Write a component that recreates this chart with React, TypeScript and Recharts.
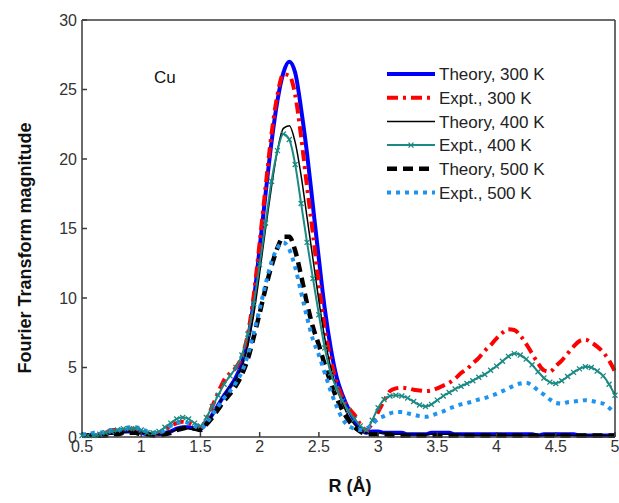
import React from 'react';
import { LineChart, Line, XAxis, YAxis, Legend, Label } from 'recharts';

const rValues = [
  0.5, 0.55, 0.6, 0.65, 0.7, 0.75, 0.8, 0.85, 0.9, 0.95, 1.0, 1.05, 1.1, 1.15, 1.2, 1.25, 1.3, 1.35, 1.4, 1.45, 1.5,
  1.55, 1.6, 1.65, 1.7, 1.75, 1.8, 1.85, 1.9, 1.95, 2.0, 2.05, 2.1, 2.15, 2.2, 2.25, 2.3, 2.35, 2.4, 2.45, 2.5,
  2.55, 2.6, 2.65, 2.7, 2.75, 2.8, 2.85, 2.9, 2.95, 3.0, 3.05, 3.1, 3.15, 3.2, 3.25, 3.3, 3.35, 3.4, 3.45, 3.5,
  3.55, 3.6, 3.65, 3.7, 3.75, 3.8, 3.85, 3.9, 3.95, 4.0, 4.05, 4.1, 4.15, 4.2, 4.25, 4.3, 4.35, 4.4, 4.45, 4.5,
  4.55, 4.6, 4.65, 4.7, 4.75, 4.8, 4.85, 4.9, 4.95, 5.0,
];

const theory300 = [
  0.1, 0.1, 0.1, 0.1, 0.2, 0.3, 0.3, 0.4, 0.4, 0.4, 0.3, 0.2, 0.2, 0.2, 0.3, 0.4, 0.6, 0.7, 0.7, 0.6, 0.6,
  1.0, 1.6, 2.3, 3.0, 3.6, 4.3, 5.3, 7.0, 9.8, 13.6, 17.5, 21.2, 24.2, 26.2, 27.0, 26.2, 23.6, 20.4, 16.6, 12.8,
  9.2, 6.4, 4.3, 3.0, 2.0, 1.2, 0.6, 0.3, 0.4, 0.4, 0.3, 0.3, 0.3, 0.3, 0.2, 0.2, 0.2, 0.2, 0.3, 0.3,
  0.3, 0.3, 0.2, 0.2, 0.2, 0.2, 0.2, 0.2, 0.2, 0.2, 0.2, 0.2, 0.2, 0.2, 0.2, 0.2, 0.1, 0.2, 0.2, 0.2,
  0.2, 0.2, 0.2, 0.1, 0.1, 0.1, 0.1, 0.1, 0.1, 0.1,
];

const expt300 = [
  0.1, 0.1, 0.2, 0.2, 0.3, 0.5, 0.5, 0.4, 0.5, 0.6, 0.5, 0.3, 0.2, 0.3, 0.5, 0.8, 1.0, 1.1, 1.0, 0.8, 0.7,
  1.3, 2.2, 3.2, 4.1, 4.6, 5.0, 5.8, 7.4, 10.2, 14.0, 18.0, 21.8, 24.6, 26.1, 26.0, 24.6, 21.6, 18.0, 14.6, 11.0,
  7.8, 5.6, 3.9, 2.8, 2.1, 1.6, 0.9, 0.5, 1.0, 1.8, 2.6, 3.3, 3.5, 3.55, 3.5, 3.4, 3.35, 3.3, 3.35, 3.5,
  3.7, 3.9, 4.2, 4.6, 4.9, 5.3, 5.7, 6.2, 6.6, 7.1, 7.5, 7.75, 7.7, 7.3, 6.7, 6.0, 5.3, 4.8, 4.7, 5.1,
  5.5, 6.0, 6.5, 6.9, 7.0, 6.8, 6.5, 6.1, 5.5, 4.7,
];

const theory400 = [
  0.1, 0.1, 0.1, 0.1, 0.2, 0.2, 0.3, 0.3, 0.4, 0.3, 0.3, 0.2, 0.2, 0.2, 0.3, 0.4, 0.5, 0.6, 0.6, 0.5, 0.5,
  1.0, 1.6, 2.3, 3.0, 3.6, 4.2, 5.1, 6.6, 8.8, 11.8, 15.0, 18.0, 20.6, 22.2, 22.4, 21.2, 18.8, 15.8, 12.8, 9.8,
  7.1, 5.0, 3.5, 2.4, 1.5, 0.9, 0.5, 0.3, 0.3, 0.3, 0.3, 0.3, 0.2, 0.2, 0.2, 0.2, 0.2, 0.2, 0.2, 0.2,
  0.2, 0.2, 0.2, 0.2, 0.1, 0.1, 0.1, 0.1, 0.1, 0.1, 0.1, 0.1, 0.1, 0.1, 0.1, 0.1, 0.1, 0.1, 0.1, 0.1,
  0.1, 0.1, 0.1, 0.1, 0.1, 0.1, 0.1, 0.1, 0.1, 0.1,
];

const expt400 = [
  0.1, 0.1, 0.1, 0.2, 0.3, 0.4, 0.5, 0.6, 0.6, 0.6, 0.5, 0.3, 0.3, 0.4, 0.7, 1.0, 1.3, 1.4, 1.3, 1.0, 0.8,
  1.4, 2.2, 3.0, 3.8, 4.4, 5.0, 5.9, 7.4, 9.6, 12.4, 15.4, 18.4, 20.6, 21.8, 21.4, 19.6, 16.8, 14.0, 11.4, 8.8,
  6.4, 4.6, 3.5, 2.6, 1.9, 1.3, 0.8, 0.5, 1.2, 2.1, 2.7, 2.95, 3.0, 2.95, 2.8, 2.55, 2.3, 2.2, 2.35, 2.65,
  2.95, 3.2, 3.45, 3.65, 3.85, 4.05, 4.3, 4.5, 4.8, 5.1, 5.45, 5.8, 6.0, 5.9, 5.6, 5.2, 4.7, 4.25, 3.95, 3.85,
  4.05, 4.35, 4.65, 4.9, 5.05, 5.0, 4.75, 4.4, 3.8, 3.0,
];

const theory500 = [
  0.1, 0.1, 0.1, 0.1, 0.1, 0.2, 0.2, 0.3, 0.3, 0.3, 0.2, 0.2, 0.1, 0.1, 0.2, 0.3, 0.5, 0.6, 0.7, 0.6, 0.5,
  0.9, 1.4, 2.0, 2.6, 3.1, 3.7, 4.5, 5.6, 7.2, 8.9, 10.7, 12.3, 13.6, 14.4, 14.4, 13.4, 11.6, 9.6, 7.9, 6.6,
  5.2, 3.9, 2.8, 1.9, 1.2, 0.7, 0.4, 0.2, 0.2, 0.2, 0.2, 0.1, 0.1, 0.1, 0.1, 0.1, 0.1, 0.1, 0.1, 0.1,
  0.1, 0.1, 0.1, 0.1, 0.1, 0.1, 0.1, 0.1, 0.1, 0.1, 0.1, 0.1, 0.1, 0.1, 0.1, 0.1, 0.1, 0.1, 0.1, 0.1,
  0.1, 0.1, 0.1, 0.1, 0.1, 0.1, 0.1, 0.1, 0.1, 0.1,
];

const expt500 = [
  0.2, 0.2, 0.3, 0.3, 0.4, 0.5, 0.5, 0.6, 0.7, 0.7, 0.6, 0.4, 0.3, 0.3, 0.5, 0.8, 1.0, 1.1, 1.0, 0.8, 0.6,
  1.0, 1.6, 2.2, 2.8, 3.3, 3.9, 4.7, 5.9, 7.5, 9.2, 11.0, 12.6, 13.6, 14.0, 13.5, 12.2, 10.4, 8.6, 7.0, 5.9,
  4.6, 3.3, 2.2, 1.3, 0.8, 0.6, 0.5, 0.6, 0.9, 1.3, 1.5, 1.7, 1.8, 1.8, 1.7, 1.6, 1.5, 1.45, 1.55, 1.7,
  1.85, 2.05, 2.2, 2.35, 2.45, 2.55, 2.7, 2.8, 2.95, 3.1, 3.3, 3.5, 3.7, 3.85, 3.9, 3.7, 3.35, 3.05, 2.7, 2.45,
  2.4, 2.5, 2.55, 2.6, 2.65, 2.6, 2.5, 2.4, 2.1, 1.7,
];

const xTicks = [0.5, 1, 1.5, 2, 2.5, 3, 3.5, 4, 4.5, 5];
const yTicks = [0, 5, 10, 15, 20, 25, 30];

const series = [
  { key: 'theory300', name: 'Theory, 300 K', color: '#0000ff', width: 4, dash: undefined as string | undefined },
  { key: 'expt300', name: 'Expt., 300 K', color: '#ff0000', width: 4, dash: '11 5 3 5' },
  { key: 'theory400', name: 'Theory, 400 K', color: '#000000', width: 1.5, dash: undefined },
  { key: 'expt400', name: 'Expt., 400 K', color: '#1b8a84', width: 2, dash: undefined },
  { key: 'theory500', name: 'Theory, 500 K', color: '#000000', width: 4.5, dash: '10 6' },
  { key: 'expt500', name: 'Expt., 500 K', color: '#1e94f0', width: 4, dash: '4 5' },
];

const data = rValues.map((r, i) => ({
  r,
  theory300: theory300[i],
  expt300: expt300[i],
  theory400: theory400[i],
  expt400: expt400[i],
  theory500: theory500[i],
  expt500: expt500[i],
}));

const FONT = '"Liberation Sans", Arial, Helvetica, sans-serif';
const axisColor = '#3a3a3a';

const crossPath = (x: number, y: number, s: number) =>
  `M${x - s},${y - s}L${x + s},${y + s}M${x - s},${y + s}L${x + s},${y - s}`;

const CrossDot = (props: any) => {
  const { cx, cy, index } = props;
  if (cx == null || cy == null) return <g key={index} />;
  return <path key={index} d={crossPath(cx, cy, 2.5)} stroke="#1b8a84" strokeWidth={1.3} fill="none" />;
};

const renderLegend = () => (
  <svg width={200} height={150} style={{ display: 'block' }}>
    {series.map((s, i) => {
      const y = 12 + i * 23.7;
      return (
        <g key={s.key}>
          <line x1={2} x2={50} y1={y} y2={y} stroke={s.color} strokeWidth={s.width} strokeDasharray={s.dash} />
          {s.key === 'expt400' && (
            <path d={crossPath(26, y, 2.5)} stroke={s.color} strokeWidth={1.3} fill="none" />
          )}
          <text x={54} y={y} dy="0.36em" fontSize={17} fontWeight="normal" fill="#222" fontFamily={FONT}>
            {s.name}
          </text>
        </g>
      );
    })}
  </svg>
);

export default function App() {
  return (
    <div style={{ position: 'relative', width: 619, height: 503, background: '#fff', fontFamily: FONT }}>
      <style>{'body{margin:0;background:#fff;}'}</style>
      <LineChart width={619} height={503} data={data} margin={{ top: 0, right: 0, bottom: 36, left: 30 }}>
        <XAxis
          dataKey="r"
          type="number"
          domain={[0.5, 5]}
          ticks={xTicks}
          height={30}
          tickSize={-5}
          tickMargin={9}
          stroke={axisColor}
          strokeWidth={1.5}
          tick={{ fill: '#333', fontSize: 16, fontFamily: FONT }}
          interval={0}
        >
          <Label
            content={() => (
              <text x={350} y={486} textAnchor="middle" dominantBaseline="central" fontSize={18} fontWeight="bold" fill="#111" fontFamily={FONT}>
                R (Å)
              </text>
            )}
          />
        </XAxis>
        <XAxis
          xAxisId="top"
          orientation="top"
          dataKey="r"
          type="number"
          domain={[0.5, 5]}
          ticks={xTicks}
          height={20}
          tickSize={-5}
          tick={false}
          stroke={axisColor}
          strokeWidth={1.5}
        />
        <YAxis
          type="number"
          domain={[0, 30]}
          ticks={yTicks}
          width={52}
          tickSize={-5}
          tickMargin={10}
          stroke={axisColor}
          strokeWidth={1.5}
          tick={{ fill: '#333', fontSize: 16, fontFamily: FONT }}
          interval={0}
        >
          <Label
            content={() => (
              <text
                x={25}
                y={248}
                transform="rotate(-90 25 248)"
                textAnchor="middle"
                dominantBaseline="central"
                fontSize={18}
                fontWeight="bold"
                fill="#111"
                fontFamily={FONT}
              >
                Fourier Transform magnitude
              </text>
            )}
          />
        </YAxis>
        <YAxis
          yAxisId="right"
          orientation="right"
          type="number"
          domain={[0, 30]}
          ticks={yTicks}
          width={4}
          tickSize={-5}
          tick={false}
          stroke={axisColor}
          strokeWidth={1.5}
        />
        <Legend
          content={renderLegend}
          layout="vertical"
          align="center"
          verticalAlign="middle"
          wrapperStyle={{ top: 62, left: 385, width: 200, height: 150 }}
        />
        {series.map((s) => (
          <Line
            key={s.key}
            type="monotone"
            dataKey={s.key}
            name={s.name}
            stroke={s.color}
            strokeWidth={s.width}
            strokeDasharray={s.dash}
            dot={s.key === 'expt400' ? CrossDot : false}
            activeDot={false}
            isAnimationActive={false}
          />
        ))}
      </LineChart>
      <div style={{ position: 'absolute', left: 154, top: 68, fontSize: 17, color: '#111', lineHeight: '20px' }}>Cu</div>
    </div>
  );
}
